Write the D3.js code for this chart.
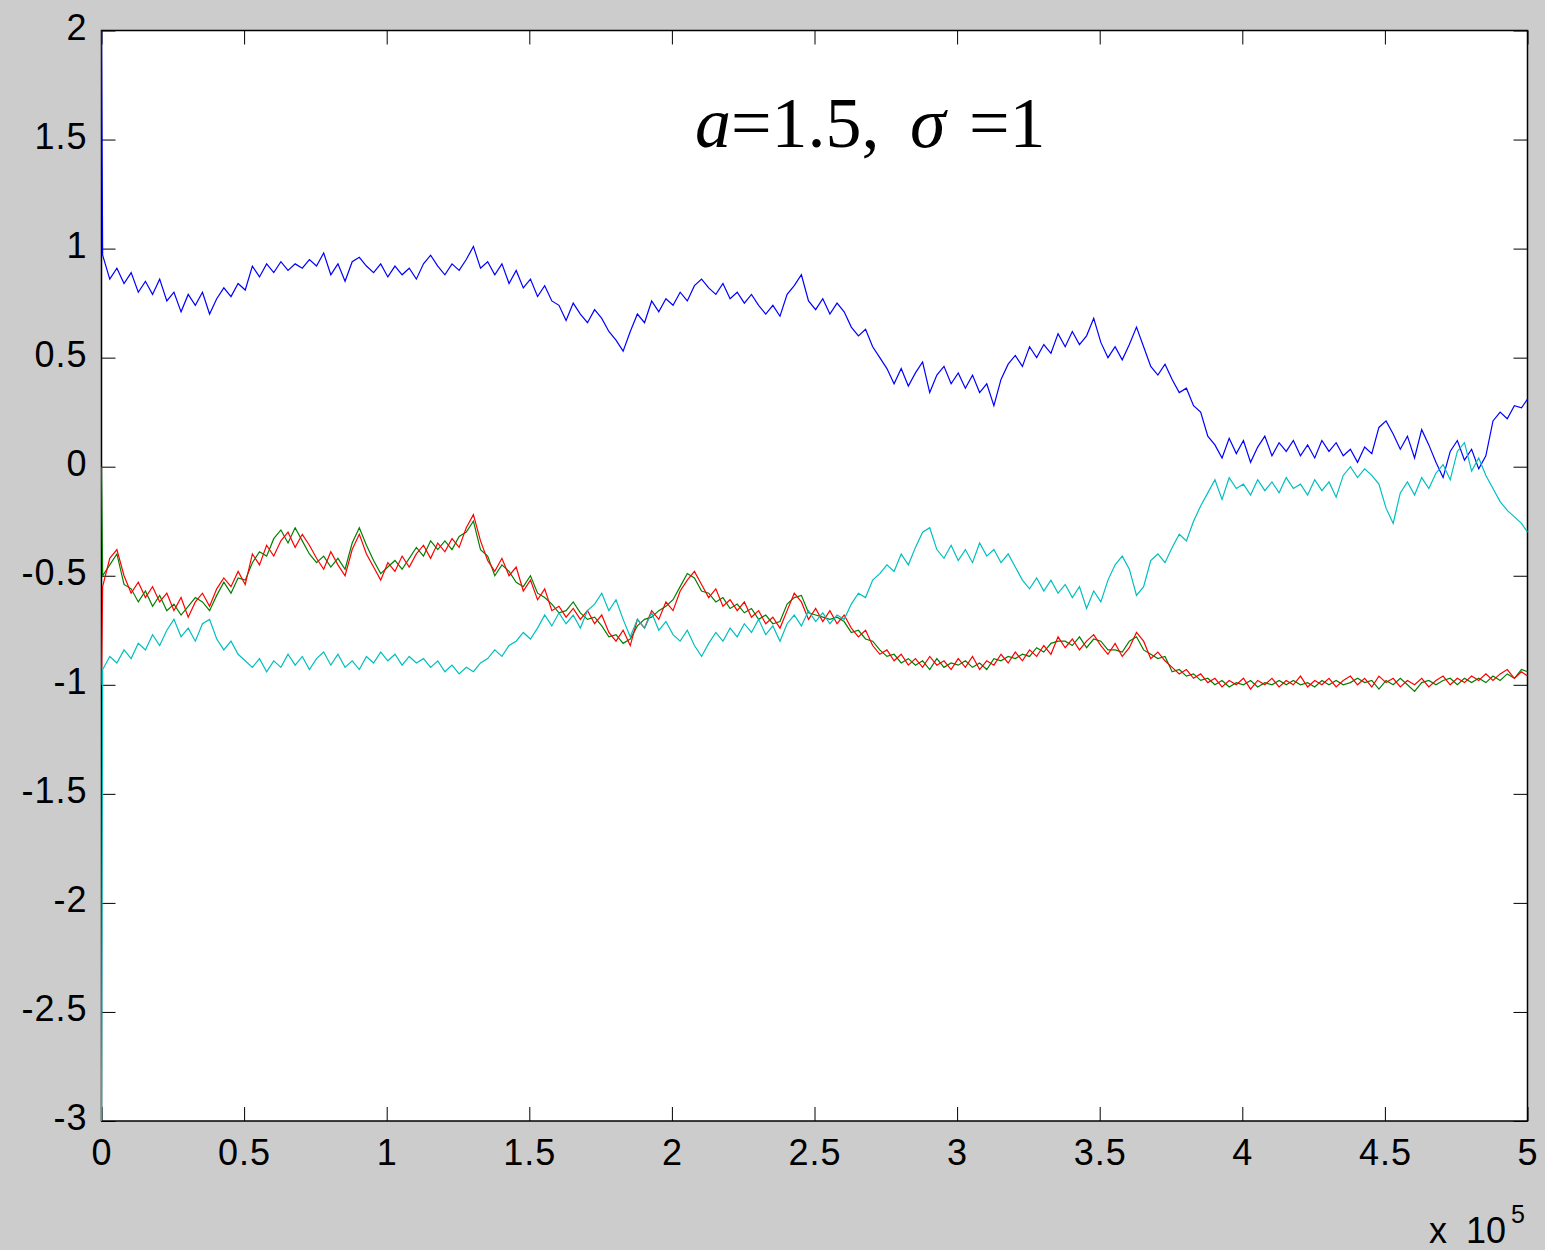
<!DOCTYPE html>
<html>
<head>
<meta charset="utf-8">
<script src="https://cdn.jsdelivr.net/npm/d3@7"></script>
<style>
  body { margin: 0; background: #cccccc; }
  svg { display: block; }
</style>
</head>
<body>
<script>
// tick values
const xTicks = [0, 0.5, 1, 1.5, 2, 2.5, 3, 3.5, 4, 4.5, 5];
const yTicks = [2, 1.5, 1, 0.5, 0, -0.5, -1, -1.5, -2, -2.5, -3];

// samples every 0.025 (x 10^5), first value of each series sits at x = 0
const step = 0.025;

const blueStart = 2;
const blueVals = [
  0.97, 0.86, 0.91, 0.84, 0.89, 0.80, 0.85, 0.79, 0.86, 0.76,
  0.80, 0.71, 0.79, 0.74, 0.80, 0.70, 0.77, 0.82, 0.78, 0.84,
  0.81, 0.92, 0.87, 0.93, 0.89, 0.94, 0.90, 0.93, 0.91, 0.95,
  0.92, 0.98, 0.88, 0.93, 0.85, 0.94, 0.96, 0.92, 0.89, 0.93,
  0.87, 0.92, 0.88, 0.91, 0.86, 0.93, 0.97, 0.92, 0.88, 0.93,
  0.90, 0.95, 1.01, 0.91, 0.94, 0.88, 0.93, 0.84, 0.90, 0.82,
  0.86, 0.78, 0.83, 0.76, 0.74, 0.67, 0.75, 0.70, 0.66, 0.72,
  0.68, 0.62, 0.58, 0.53, 0.62, 0.70, 0.66, 0.76, 0.71, 0.77,
  0.74, 0.80, 0.76, 0.83, 0.86, 0.82, 0.79, 0.84, 0.77, 0.80,
  0.75, 0.79, 0.74, 0.70, 0.74, 0.69, 0.79, 0.83, 0.88, 0.76,
  0.72, 0.77, 0.70, 0.75, 0.71, 0.64, 0.60, 0.63, 0.55, 0.50,
  0.45, 0.38, 0.45, 0.37, 0.43, 0.48, 0.34, 0.42, 0.46, 0.38,
  0.43, 0.36, 0.42, 0.34, 0.38, 0.28, 0.40, 0.47, 0.51, 0.46,
  0.55, 0.50, 0.56, 0.52, 0.61, 0.55, 0.62, 0.56, 0.60, 0.68,
  0.57, 0.50, 0.55, 0.49, 0.56, 0.64, 0.55, 0.46, 0.42, 0.47,
  0.40, 0.34, 0.36, 0.28, 0.25, 0.14, 0.10, 0.04, 0.13, 0.06,
  0.12, 0.02, 0.09, 0.14, 0.05, 0.11, 0.07, 0.12, 0.05, 0.10,
  0.04, 0.12, 0.07, 0.11, 0.05, 0.08, 0.02, 0.09, 0.06, 0.18,
  0.21, 0.15, 0.08, 0.14, 0.04, 0.17, 0.10, 0.02, -0.05, 0.07,
  0.12, 0.03, 0.08, -0.01, 0.05, 0.21, 0.25, 0.22, 0.28, 0.27,
  0.31
];

const greenStart = 0;
const greenVals = [
  -0.50, -0.45, -0.40, -0.54, -0.56, -0.62, -0.57, -0.64, -0.59, -0.66,
  -0.63, -0.68, -0.64, -0.60, -0.62, -0.66, -0.59, -0.53, -0.58, -0.51,
  -0.52, -0.44, -0.39, -0.41, -0.33, -0.29, -0.35, -0.28, -0.34, -0.40,
  -0.44, -0.41, -0.46, -0.42, -0.47, -0.35, -0.28, -0.36, -0.43, -0.49,
  -0.46, -0.43, -0.47, -0.42, -0.37, -0.41, -0.34, -0.38, -0.34, -0.38,
  -0.32, -0.30, -0.25, -0.38, -0.41, -0.50, -0.45, -0.48, -0.53, -0.55,
  -0.50, -0.58, -0.60, -0.63, -0.67, -0.66, -0.62, -0.67, -0.70, -0.69,
  -0.73, -0.78, -0.77, -0.81, -0.79, -0.73, -0.70, -0.69, -0.66, -0.64,
  -0.61, -0.55, -0.49, -0.51, -0.57, -0.58, -0.62, -0.60, -0.65, -0.63,
  -0.67, -0.65, -0.70, -0.68, -0.72, -0.71, -0.63, -0.60, -0.59, -0.67,
  -0.68, -0.69, -0.70, -0.69, -0.71, -0.76, -0.75, -0.79, -0.80, -0.84,
  -0.87, -0.86, -0.90, -0.88, -0.91, -0.89, -0.93, -0.88, -0.92, -0.90,
  -0.91, -0.89, -0.92, -0.90, -0.93, -0.88, -0.89, -0.87, -0.88, -0.86,
  -0.87, -0.83, -0.85, -0.81, -0.80, -0.80, -0.82, -0.78, -0.83, -0.79,
  -0.80, -0.84, -0.84, -0.85, -0.80, -0.78, -0.84, -0.86, -0.88, -0.87,
  -0.94, -0.93, -0.96, -0.95, -0.98, -0.97, -1.00, -0.98, -1.01, -0.99,
  -1.00, -0.98, -1.01, -0.99, -1.00, -0.98, -1.00, -0.98, -1.00, -0.99,
  -1.01, -0.98, -1.00, -0.98, -1.00, -0.99, -0.97, -0.99, -0.98, -1.02,
  -0.98, -1.00, -0.97, -1.00, -1.03, -0.99, -0.98, -1.00, -0.98, -0.97,
  -1.00, -0.97, -0.99, -0.97, -0.99, -0.96, -0.98, -0.95, -0.97, -0.93,
  -0.94
];

const redStart = -1;
const redVals = [
  -0.55, -0.42, -0.38, -0.50, -0.58, -0.53, -0.60, -0.55, -0.62, -0.58,
  -0.66, -0.60, -0.69, -0.62, -0.58, -0.64, -0.56, -0.51, -0.55, -0.48,
  -0.54, -0.40, -0.45, -0.36, -0.41, -0.34, -0.30, -0.37, -0.31, -0.36,
  -0.42, -0.47, -0.39, -0.45, -0.50, -0.38, -0.31, -0.40, -0.46, -0.52,
  -0.44, -0.48, -0.41, -0.46, -0.40, -0.36, -0.42, -0.35, -0.39, -0.33,
  -0.37, -0.28, -0.22, -0.34, -0.43, -0.48, -0.42, -0.50, -0.46, -0.57,
  -0.52, -0.61, -0.56, -0.66, -0.64, -0.69, -0.65, -0.70, -0.66, -0.72,
  -0.68, -0.76, -0.80, -0.75, -0.82, -0.70, -0.74, -0.66, -0.70, -0.62,
  -0.66, -0.57, -0.52, -0.48, -0.54, -0.60, -0.56, -0.64, -0.61, -0.66,
  -0.62, -0.69, -0.66, -0.72, -0.69, -0.74, -0.66, -0.58, -0.62, -0.70,
  -0.65, -0.71, -0.66, -0.72, -0.68, -0.74, -0.78, -0.75, -0.82, -0.86,
  -0.84, -0.89, -0.86, -0.91, -0.88, -0.92, -0.87, -0.91, -0.89, -0.93,
  -0.88, -0.92, -0.87, -0.93, -0.89, -0.91, -0.86, -0.90, -0.85, -0.89,
  -0.84, -0.87, -0.82, -0.86, -0.78, -0.83, -0.79, -0.84, -0.80, -0.77,
  -0.82, -0.86, -0.81, -0.87, -0.83, -0.76, -0.80, -0.88, -0.85, -0.89,
  -0.92, -0.95, -0.93, -0.97, -0.95, -0.99, -0.97, -1.01, -0.98, -1.00,
  -0.97, -1.02, -0.98, -1.00, -0.97, -1.01, -0.98, -1.00, -0.96, -1.01,
  -0.98, -1.00, -0.97, -1.01, -0.98, -0.96, -1.00, -0.97, -1.01, -0.96,
  -0.99, -0.97, -1.01, -0.98, -1.00, -0.97, -1.01, -0.98, -0.96, -1.00,
  -0.97, -0.99, -0.96, -0.98, -0.95, -0.98, -0.95, -0.93, -0.97, -0.94,
  -0.96
];

const cyanStart = -3;
const cyanVals = [
  -0.93, -0.87, -0.90, -0.84, -0.88, -0.81, -0.84, -0.77, -0.82, -0.75,
  -0.70, -0.78, -0.74, -0.80, -0.72, -0.70, -0.79, -0.84, -0.80, -0.86,
  -0.89, -0.92, -0.88, -0.94, -0.89, -0.92, -0.86, -0.91, -0.87, -0.93,
  -0.88, -0.85, -0.91, -0.86, -0.92, -0.89, -0.93, -0.87, -0.90, -0.85,
  -0.89, -0.86, -0.91, -0.87, -0.90, -0.88, -0.92, -0.89, -0.94, -0.91,
  -0.95, -0.92, -0.94, -0.90, -0.88, -0.84, -0.87, -0.82, -0.80, -0.76,
  -0.79, -0.74, -0.68, -0.73, -0.67, -0.72, -0.68, -0.74, -0.66, -0.63,
  -0.58, -0.66, -0.61, -0.70, -0.78, -0.70, -0.74, -0.67, -0.75, -0.71,
  -0.77, -0.80, -0.75, -0.82, -0.87, -0.81, -0.76, -0.80, -0.74, -0.78,
  -0.72, -0.76, -0.70, -0.77, -0.73, -0.80, -0.72, -0.68, -0.73, -0.66,
  -0.71, -0.67, -0.72, -0.68, -0.70, -0.63, -0.58, -0.60, -0.52, -0.49,
  -0.45, -0.48, -0.40, -0.45, -0.37, -0.30, -0.28, -0.38, -0.42, -0.36,
  -0.43, -0.38, -0.44, -0.35, -0.41, -0.38, -0.44, -0.40, -0.46, -0.52,
  -0.56, -0.51, -0.57, -0.52, -0.58, -0.54, -0.60, -0.55, -0.65, -0.57,
  -0.62, -0.52, -0.45, -0.41, -0.47, -0.59, -0.55, -0.43, -0.40, -0.44,
  -0.37, -0.31, -0.34, -0.25, -0.18, -0.12, -0.06, -0.15, -0.05, -0.10,
  -0.08, -0.13, -0.06, -0.11, -0.07, -0.12, -0.05, -0.10, -0.08, -0.13,
  -0.06, -0.11, -0.07, -0.14, -0.04, 0.00, -0.05, -0.01, -0.04, -0.08,
  -0.19, -0.26, -0.12, -0.07, -0.13, -0.05, -0.10, -0.03, 0.01, -0.06,
  0.07, 0.11, -0.02, 0.04, -0.04, -0.10, -0.16, -0.20, -0.23, -0.26,
  -0.30
];

const w = 1545;
const h = 1250;
const plotLeft = 101.5, plotRight = 1527.5, plotTop = 30.5, plotBottom = 1121;

const xScale = d3.scaleLinear().domain([0, 5]).range([plotLeft, plotRight]);
const yScale = d3.scaleLinear().domain([-3, 2]).range([plotBottom, plotTop]);

const svg = d3.select("body").append("svg").attr("width", w).attr("height", h);

svg.append("rect")
  .attr("x", plotLeft).attr("y", plotTop)
  .attr("width", plotRight - plotLeft).attr("height", plotBottom - plotTop)
  .attr("fill", "#ffffff");

const font = "'Liberation Sans', Arial, sans-serif";
const fmt = (d) => String(d);

function styleAxis(g) {
  g.select(".domain").remove();
  g.selectAll(".tick line").attr("stroke", "#000").attr("stroke-width", 1);
  g.attr("font-family", font).attr("font-size", 36);
  g.selectAll("text").attr("fill", "#000").attr("letter-spacing", 1);
}

svg.append("g")
  .attr("transform", "translate(0," + plotBottom + ")")
  .call(d3.axisBottom(xScale).tickValues(xTicks).tickSize(-14).tickPadding(18).tickFormat(fmt))
  .call(styleAxis);

svg.append("g")
  .attr("transform", "translate(0," + plotTop + ")")
  .call(d3.axisTop(xScale).tickValues(xTicks).tickSize(-14).tickFormat(""))
  .call(styleAxis);

const yAxis = svg.append("g")
  .attr("transform", "translate(" + plotLeft + ",0)")
  .call(d3.axisLeft(yScale).tickValues(yTicks).tickSize(-14).tickPadding(14).tickFormat(fmt))
  .call(styleAxis);
yAxis.selectAll("text").attr("dy", "0.24em");

svg.append("g")
  .attr("transform", "translate(" + plotRight + ",0)")
  .call(d3.axisRight(yScale).tickValues(yTicks).tickSize(-14).tickFormat(""))
  .call(styleAxis);

// box
svg.append("rect")
  .attr("x", plotLeft).attr("y", plotTop)
  .attr("width", plotRight - plotLeft).attr("height", plotBottom - plotTop)
  .attr("fill", "none").attr("stroke", "#000").attr("stroke-width", 1.5);

// series
const series = [
  { color: "#0000ff", start: blueStart, vals: blueVals },
  { color: "#008000", start: greenStart, vals: greenVals },
  { color: "#ff0000", start: redStart, vals: redVals },
  { color: "#00bfbf", start: cyanStart, vals: cyanVals }
];

const line = d3.line().x((d) => xScale(d[0])).y((d) => yScale(d[1]));

svg.append("clipPath").attr("id", "plot-clip")
  .append("rect")
  .attr("x", plotLeft - 1).attr("y", plotTop - 1)
  .attr("width", plotRight - plotLeft + 2).attr("height", plotBottom - plotTop + 2);

const lines = svg.append("g").attr("clip-path", "url(#plot-clip)");

series.forEach((s) => {
  const pts = [[0, s.start]].concat(
    s.vals.map((v, i) => [Math.min(5, 0.004 + i * step), v])
  );
  lines.append("path")
    .datum(pts)
    .attr("d", line)
    .attr("fill", "none")
    .attr("stroke", s.color)
    .attr("stroke-width", 1.2);
});

// title
const title = svg.append("text")
  .attr("y", 147)
  .attr("font-family", "'Liberation Serif', 'Times New Roman', serif")
  .attr("font-size", 72)
  .attr("fill", "#000");
title.append("tspan").attr("x", 695).attr("font-style", "italic").text("a");
title.append("tspan").text("=1.5,");
title.append("tspan").attr("x", 910).attr("font-style", "italic").text("σ");
title.append("tspan").attr("x", 969).text("=1");

// exponent label
const expo = svg.append("text")
  .attr("y", 1243)
  .attr("font-family", font).attr("font-size", 36)
  .attr("fill", "#000");
expo.append("tspan").attr("x", 1429).text("x");
expo.append("tspan").attr("x", 1466).text("10");
svg.append("text")
  .attr("x", 1511).attr("y", 1223)
  .attr("font-family", font).attr("font-size", 25)
  .attr("fill", "#000")
  .text("5");
</script>
</body>
</html>
